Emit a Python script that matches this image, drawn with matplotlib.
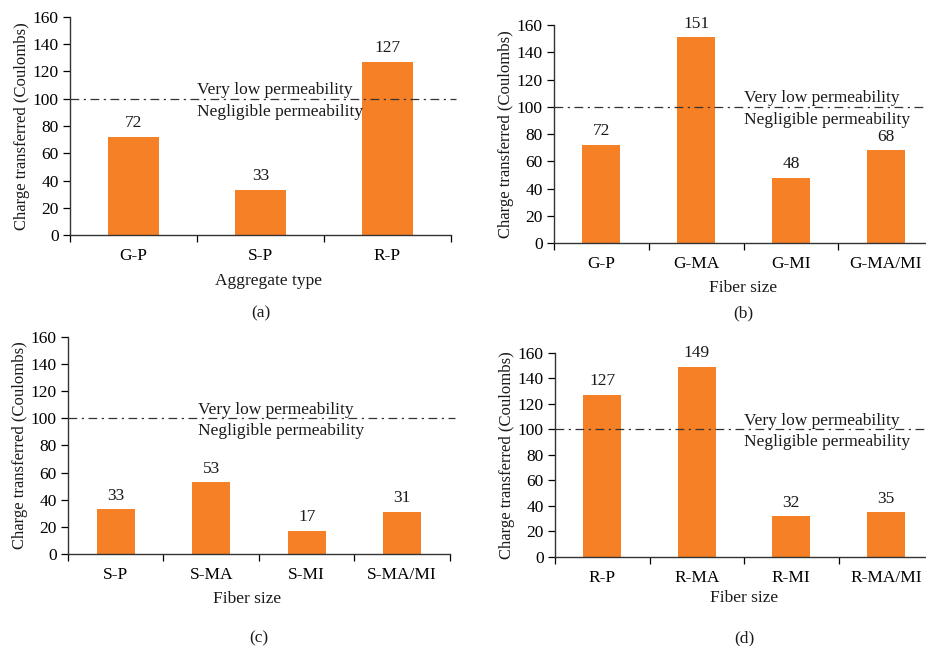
import matplotlib
matplotlib.use("Agg")
import matplotlib.pyplot as plt
import numpy as np

plt.rcParams["font.family"] = ["Liberation Serif", "DejaVu Serif"]
plt.rcParams["font.size"] = 12.5
plt.rcParams["text.color"] = "#1a1a1a"
plt.rcParams["axes.labelcolor"] = "#1a1a1a"

# charge passed (Coulombs) per mix
AGG_LABELS = ["G-P", "S-P", "R-P"]
AGG_VALUES = [72, 33, 127]
G_LABELS = ["G-P", "G-MA", "G-MI", "G-MA/MI"]
G_VALUES = [72, 151, 48, 68]
S_LABELS = ["S-P", "S-MA", "S-MI", "S-MA/MI"]
S_VALUES = [33, 53, 17, 31]
R_LABELS = ["R-P", "R-MA", "R-MI", "R-MA/MI"]
R_VALUES = [127, 149, 32, 35]
THRESHOLD = 100
YTICKS = [0, 20, 40, 60, 80, 100, 120, 140, 160]

ORANGE = "#F58025"

fig = plt.figure(figsize=(9.26, 6.46), dpi=100)

panels = [
    # (rect, labels, values, xlabel, tag, text x, xlabel x, tag y, xlabel y)
    ([0.0756, 0.6362, 0.4114, 0.3375], AGG_LABELS, AGG_VALUES, "Aggregate type", "(a)", 0.5, 0.52, -0.358, -0.175),
    ([0.5983, 0.6238, 0.4093, 0.3375], G_LABELS, G_VALUES, "Fiber size", "(b)", 1.5, 0.5, -0.321, -0.17),
    ([0.0734, 0.1424, 0.4125, 0.3360], S_LABELS, S_VALUES, "Fiber size", "(c)", 0.86, 0.47, -0.387, -0.17),
    ([0.5994, 0.1378, 0.4082, 0.3158], R_LABELS, R_VALUES, "Fiber size", "(d)", 1.5, 0.5, -0.397, -0.162),
]

for rect, labels, values, xlabel, tag, tx, xlx, tagy, xly in panels:
    ax = fig.add_axes(rect)
    x = np.arange(len(labels))
    bars = ax.bar(x, values, width=0.4, color=ORANGE, zorder=2)
    for b, v in zip(bars, values):
        ax.annotate(f"{v}", (b.get_x() + b.get_width() / 2, v), xytext=(0, 4),
                    textcoords="offset points", ha="center", va="bottom")

    ax.set_xlim(-0.5, len(labels) - 0.5)
    ax.set_ylim(0, 160)
    ax.set_yticks(YTICKS)
    ax.set_xticks(x)
    ax.set_xticklabels(labels)
    ax.set_xticks(np.arange(len(labels) + 1) - 0.5, minor=True)
    ax.tick_params(axis="x", which="major", length=0, pad=9.5)
    ax.tick_params(axis="x", which="minor", length=5, width=0.9, direction="out")
    ax.tick_params(axis="y", length=5, width=0.9, direction="out", pad=3)
    for s in ("top", "right"):
        ax.spines[s].set_visible(False)
    for s in ("left", "bottom"):
        ax.spines[s].set_linewidth(1.0)
        ax.spines[s].set_color("#333333")

    ax.set_ylabel("Charge transferred (Coulombs)", fontsize=12, labelpad=2)
    ax.set_xlabel(xlabel)
    ax.xaxis.set_label_coords(xlx, xly)

    # permeability class boundary
    ax.axhline(THRESHOLD, xmin=0, xmax=1.012, color="#333333", lw=0.9,
               linestyle=(0, (7, 3.6, 1.8, 3.6)), clip_on=False, zorder=3)
    ax.text(tx, THRESHOLD + 0.3, "Very low permeability", ha="left", va="bottom")
    ax.text(tx, THRESHOLD - 3.5, "Negligible permeability", ha="left", va="top")

    ax.text(0.5, tagy, tag, transform=ax.transAxes, ha="center", va="center")

fig.savefig("out.png", dpi=100)
